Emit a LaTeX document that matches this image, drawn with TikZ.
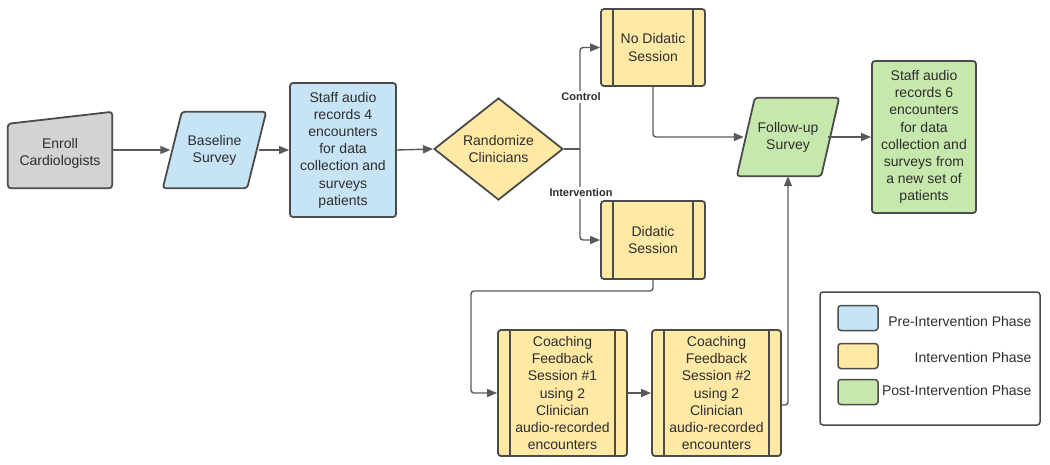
\documentclass[tikz,border=0pt]{standalone}
\usepackage{fontspec}
\setmainfont{Liberation Sans}
\usetikzlibrary{shapes.geometric,arrows.meta,calc}
\definecolor{bluef}{RGB}{199,228,247}
\definecolor{yellowf}{RGB}{255,233,165}
\definecolor{greenf}{RGB}{199,232,172}
\definecolor{grayf}{RGB}{211,211,211}
\definecolor{edge}{RGB}{75,75,75}
\definecolor{txt}{RGB}{45,45,45}
\definecolor{conn}{RGB}{90,90,90}
\tikzset{
  shp/.style={draw=edge, line width=1.8pt, rounded corners=3pt},
  holder/.style={inner sep=0pt, align=center, text=txt},
  boxn/.style={holder, draw=edge, line width=1.8pt, rounded corners=3pt},
  proc/.style={boxn, fill=yellowf, path picture={
      \draw[edge, line width=1.6pt] ($(path picture bounding box.north west)+(12,0)$) -- ($(path picture bounding box.south west)+(12,0)$);
      \draw[edge, line width=1.6pt] ($(path picture bounding box.north east)+(-12,0)$) -- ($(path picture bounding box.south east)+(-12,0)$);}},
  arr/.style={draw=conn, line width=1.4pt, -{Triangle[length=10pt,width=8pt]}, rounded corners=3pt},
  ln/.style={draw=conn, line width=1.4pt, rounded corners=3pt},
  lab/.style={fill=white, inner sep=1.5pt, font=\fontsize{11}{13}\selectfont\bfseries, text=txt},
  legt/.style={anchor=east, text=txt}
}
\begin{document}
\begin{tikzpicture}[x=1pt, y=-1pt, font=\fontsize{14}{17.2}\selectfont]
\useasboundingbox (0,0) rectangle (1050,464);

% Enroll Cardiologists (manual input)
\node[holder, minimum width=104pt, minimum height=76pt] (en) at (60,150) {};
\draw[shp, fill=grayf] (en.south west) -- ($(en.north west)+(0,12)$) -- (en.north east) -- (en.south east) -- cycle;
\node[holder] at ($(en.center)+(0,3)$) {Enroll\\Cardiologists};

% Baseline Survey (parallelogram)
\node[holder, minimum width=84pt, minimum height=76pt] (bs) at (214.5,150) {};
\draw[shp, fill=bluef] ($(bs.south west)+(-9.5,0)$) -- ($(bs.north west)+(9.5,0)$) -- ($(bs.north east)+(9.5,0)$) -- ($(bs.south east)+(-9.5,0)$) -- cycle;
\node[holder] at (bs.center) {Baseline\\Survey};

% Staff audio 4
\node[boxn, fill=bluef, minimum width=106pt, minimum height=134pt] (sa) at (343,150)
  {Staff audio\\records 4\\encounters\\for data\\collection and\\surveys\\patients};

% Randomize diamond
\node[diamond, draw=edge, line width=1.8pt, fill=yellowf, aspect=1.26, minimum width=129pt, minimum height=102pt, inner sep=0pt, align=center, text=txt] (dia) at (498.5,149) {Randomize\\Clinicians};

% No Didatic / Didatic
\node[proc, minimum width=104pt, minimum height=77pt] (nd) at (653,47.5) {No Didatic\\Session};
\node[proc, minimum width=104pt, minimum height=78pt] (ds) at (653,240) {Didatic\\Session};

% Follow-up Survey
\node[holder, minimum width=84pt, minimum height=78pt] (fu) at (788,137) {};
\draw[shp, fill=greenf] ($(fu.south west)+(-9,0)$) -- ($(fu.north west)+(9,0)$) -- ($(fu.north east)+(9,0)$) -- ($(fu.south east)+(-9,0)$) -- cycle;
\node[holder] at (fu.center) {Follow-up\\Survey};

% Staff audio 6
\node[boxn, fill=greenf, minimum width=104pt, minimum height=152pt] (sb) at (924,137)
  {Staff audio\\records 6\\encounters\\for data\\collection and\\surveys from\\a new set of\\patients};

% Coaching sessions
\node[proc, minimum width=129pt, minimum height=126pt] (c1) at (562.5,393)
  {Coaching\\Feedback\\Session \#1\\using 2\\Clinician\\audio-recorded\\encounters};
\node[proc, minimum width=129pt, minimum height=126pt] (c2) at (716.5,393)
  {Coaching\\Feedback\\Session \#2\\using 2\\Clinician\\audio-recorded\\encounters};

% Connectors
\draw[arr] (en.east) -- ($(bs.west)+(-2,0)$);
\draw[arr] ($(bs.east)+(2,0)$) -- (sa.west);
\draw[arr] (sa.east) -- (dia.west);
\coordinate (br) at (580,149);
\draw[ln] (dia.east) -- (br);
\draw[arr] (br) |- (nd.west);
\draw[arr] (br) |- (ds.west);
\node[lab] at (581,97) {Control};
\node[lab] at (581,193) {Intervention};
\draw[arr] (nd.south) |- ($(fu.west)+(-2,0)$);
\draw[arr] ($(fu.east)+(-2,0)$) -- (sb.west);
\coordinate (dl) at (471,291);
\draw[arr] (ds.south) |- (dl) |- (c1.west);
\draw[arr] (c1.east) -- (c2.west);
\draw[arr] ($(c2.east)+(0,12)$) -| (fu.south);

% Legend
\node[draw=edge, line width=1.5pt, rounded corners=3pt, minimum width=220pt, minimum height=133pt, inner sep=0pt] (leg) at (930,358.5) {};
\node[draw=edge, line width=1.5pt, rounded corners=3pt, fill=bluef, minimum width=40pt, minimum height=25pt, inner sep=0pt] (lb) at (858,318) {};
\node[draw=edge, line width=1.5pt, rounded corners=3pt, fill=yellowf, minimum width=40pt, minimum height=25pt, inner sep=0pt] (ly) at (858,356) {};
\node[draw=edge, line width=1.5pt, rounded corners=3pt, fill=greenf, minimum width=40pt, minimum height=25pt, inner sep=0pt] (lg) at (858,392) {};
\node[legt] (tb) at (1035,321) {Pre-Intervention Phase};
\node[legt] (ty) at (1035,357) {Intervention Phase};
\node[legt] (tg) at (1035,390) {Post-Intervention Phase};
\end{tikzpicture}
\end{document}
